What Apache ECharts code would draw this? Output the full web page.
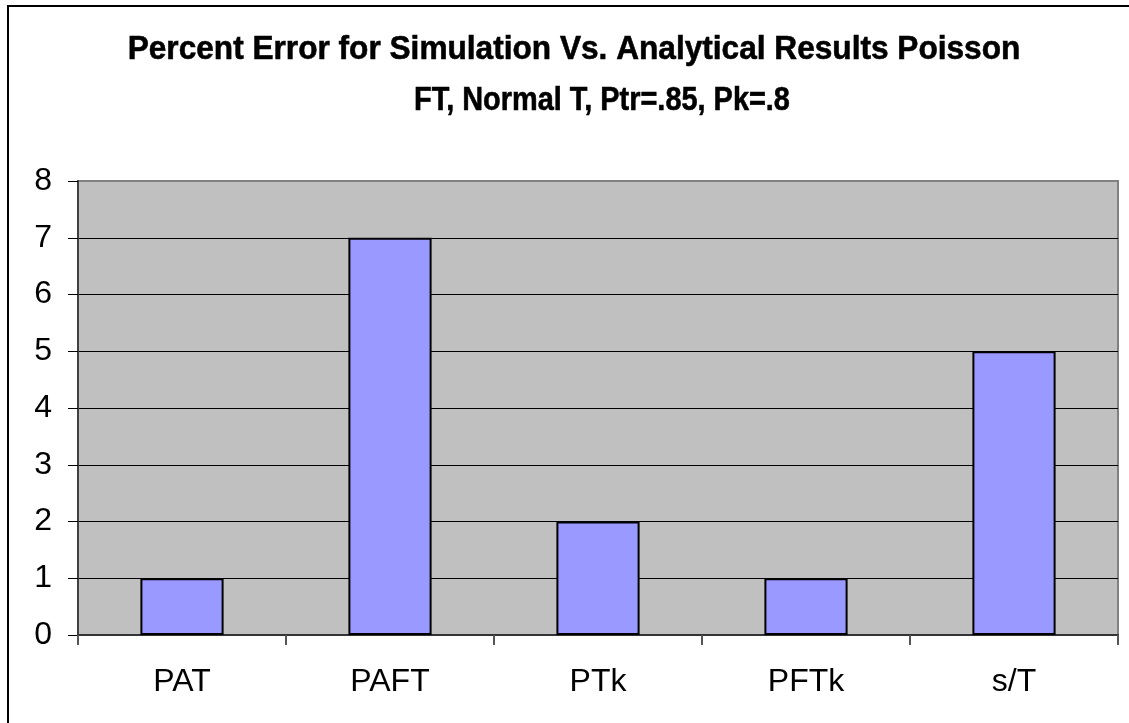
<!DOCTYPE html>
<html>
<head>
<meta charset="utf-8">
<script src="https://cdn.jsdelivr.net/npm/echarts@6/dist/echarts.min.js"></script>
<style>
html,body{margin:0;padding:0;background:#fff;}
#c{width:1129px;height:723px;}
</style>
</head>
<body>
<div id="c"></div>
<script>
const categories = ['PAT', 'PAFT', 'PTk', 'PFTk', 's/T'];
const values = [1, 7, 2, 1, 5];
const yTicks = { min: 0, max: 8, interval: 1 };
const titleLines = ['Percent Error for Simulation Vs. Analytical Results Poisson', 'FT, Normal T, Ptr=.85, Pk=.8'];

const chart = echarts.init(document.getElementById('c'), null, { renderer: 'canvas' });
const font = 'Liberation Sans, Arial, sans-serif';
const titleFont = 'bold 34px "Liberation Sans", Arial, sans-serif';
chart.setOption({
  backgroundColor: '#ffffff',
  animation: false,
  graphic: [
    { type: 'rect', shape: { x: 8, y: 6, width: 1400, height: 1000 }, style: { fill: 'none', stroke: '#000', lineWidth: 2 }, silent: true },
    { type: 'text', x: 574, y: 50, scaleX: 0.93, style: { text: titleLines[0], font: titleFont, fill: '#000', stroke: '#000', lineWidth: 0.6, align: 'center', verticalAlign: 'middle' } },
    { type: 'text', x: 602, y: 101, scaleX: 0.85, style: { text: titleLines[1], font: titleFont, fill: '#000', stroke: '#000', lineWidth: 0.6, align: 'center', verticalAlign: 'middle' } }
  ],
  grid: {
    left: 78, top: 181, width: 1040, height: 454,
    show: true, backgroundColor: '#C0C0C0', borderColor: '#808080', borderWidth: 2,
    containLabel: false
  },
  xAxis: {
    type: 'category',
    data: categories,
    boundaryGap: true,
    axisLine: { show: true, lineStyle: { color: '#333', width: 2 } },
    axisTick: { show: true, length: 10, lineStyle: { color: '#555', width: 2 } },
    axisLabel: { color: '#000', fontSize: 32, fontFamily: font, margin: 31 },
    splitLine: { show: false }
  },
  yAxis: {
    type: 'value',
    min: yTicks.min, max: yTicks.max, interval: yTicks.interval,
    axisLine: { show: true, lineStyle: { color: '#404040', width: 2 } },
    axisTick: { show: true, length: 10, lineStyle: { color: '#000', width: 1 } },
    axisLabel: { color: '#000', fontSize: 32, fontFamily: font, margin: 26 },
    splitLine: { show: true, showMaxLine: false, lineStyle: { color: '#000', width: 1 } }
  },
  series: [{
    type: 'bar',
    data: values,
    barCategoryGap: '60%',
    itemStyle: { color: '#9999FF', borderColor: '#000', borderWidth: 2 }
  }]
});
</script>
</body>
</html>
